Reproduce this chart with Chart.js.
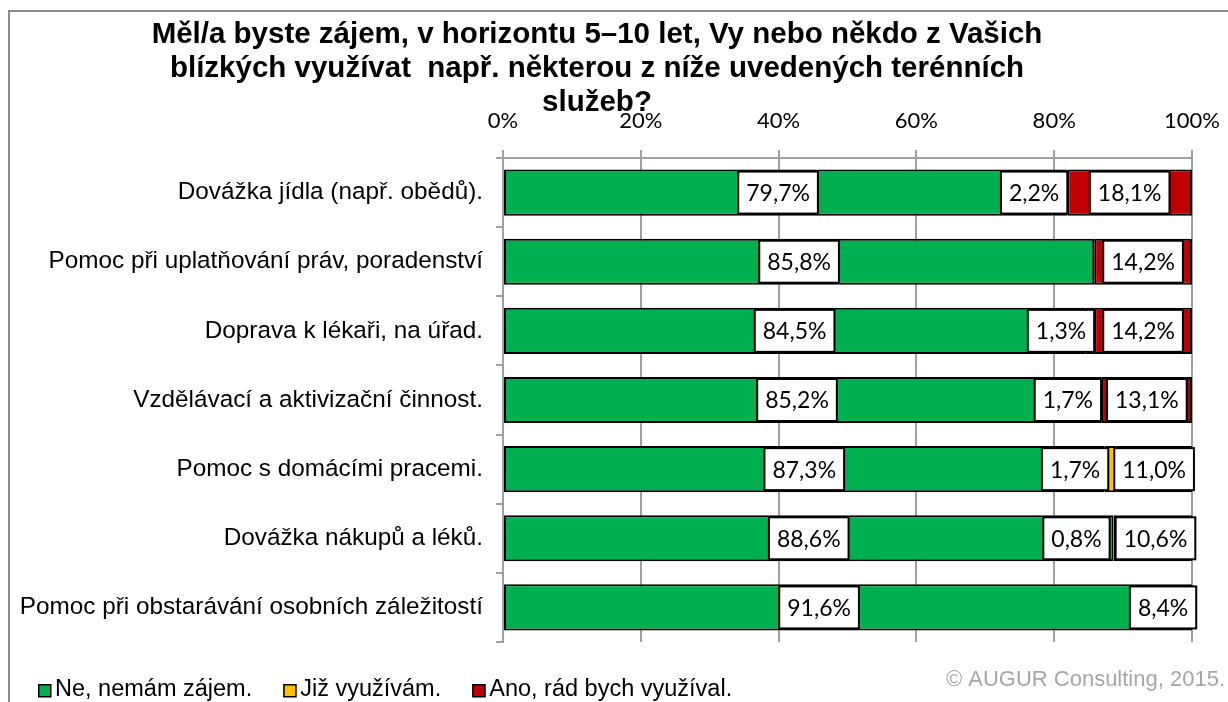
<!DOCTYPE html>
<html>
<head>
<meta charset="utf-8">
<script src="https://cdn.jsdelivr.net/npm/chart.js@4.4.1/dist/chart.umd.min.js"></script>
<style>
  html, body { margin: 0; padding: 0; background: #fff; }
  #wrap { width: 1228px; height: 702px; }
</style>
</head>
<body>
<div id="wrap"><canvas id="serviceChart" width="1228" height="702"></canvas></div>
<script>
  // Data (percent of respondents)
  const categories = [
    'Dovážka jídla (např. obědů).',
    'Pomoc při uplatňování práv, poradenství',
    'Doprava k lékaři, na úřad.',
    'Vzdělávací a aktivizační činnost.',
    'Pomoc s domácími pracemi.',
    'Dovážka nákupů a léků.',
    'Pomoc při obstarávání osobních záležitostí'
  ];
  const notInterested = [79.7, 85.8, 84.5, 85.2, 87.3, 88.6, 91.6];
  const alreadyUsing = [2.2, 0, 1.3, 1.7, 1.7, 0.8, 0];
  const wouldLike = [18.1, 14.2, 14.2, 13.1, 11.0, 10.6, 8.4];
  const seriesNames = ['Ne, nemám zájem.', 'Již využívám.', 'Ano, rád bych využíval.'];
  const tickValues = [0, 20, 40, 60, 80, 100];

  const titleLines = [
    'Měl/a byste zájem, v horizontu 5–10 let, Vy nebo někdo z Vašich',
    'blízkých využívat  např. některou z níže uvedených terénních',
    'služeb?'
  ];
  const watermark = '© AUGUR Consulting, 2015.';

  const colors = ['#00B050', '#FFC000', '#C00000'];
  const arial = '"Liberation Sans", Arial, sans-serif';
  const labelFont = '23px Lato, "Open Sans", sans-serif';
  const fmt = v => v.toFixed(1).replace('.', ',') + '%';

  // frame, title, legend and watermark
  const decorPlugin = {
    id: 'decor',
    beforeDraw(chart) {
      const ctx = chart.ctx;
      ctx.save();
      ctx.fillStyle = '#fff';
      ctx.fillRect(0, 0, chart.width, chart.height);
      ctx.strokeStyle = '#8c8c8c';
      ctx.lineWidth = 2;
      ctx.beginPath();
      ctx.moveTo(chart.width, 11);
      ctx.lineTo(9, 11);
      ctx.lineTo(9, chart.height);
      ctx.stroke();
      ctx.restore();
    },
    afterDraw(chart) {
      const ctx = chart.ctx;
      ctx.save();
      ctx.fillStyle = '#000';
      ctx.font = 'bold 29.5px ' + arial;
      ctx.textAlign = 'center';
      ctx.textBaseline = 'alphabetic';
      titleLines.forEach((line, i) => ctx.fillText(line, 597, 43 + i * 34));

      // legend
      ctx.font = '23.5px ' + arial;
      ctx.textAlign = 'left';
      ctx.textBaseline = 'middle';
      let x = 38;
      chart.data.datasets.forEach(ds => {
        ctx.fillStyle = ds.backgroundColor;
        ctx.fillRect(x, 684, 13, 13);
        ctx.strokeStyle = '#000';
        ctx.lineWidth = 1.5;
        ctx.strokeRect(x + 0.75, 684.75, 12, 12);
        ctx.fillStyle = '#000';
        ctx.fillText(ds.label, x + 17, 690);
        x += 17 + ctx.measureText(ds.label).width + 31;
      });

      // watermark
      ctx.fillStyle = '#a6a6a6';
      ctx.textAlign = 'right';
      ctx.font = '22px ' + arial;
      ctx.fillText(watermark, 1225, 680);
      ctx.restore();
    }
  };

  // value labels in white boxes
  function boxWidth(ctx, text) {
    return ctx.measureText(text).width + 16;
  }

  function drawBox(ctx, text, cx, cy) {
    const w = boxWidth(ctx, text);
    const h = 42;
    ctx.fillStyle = '#fff';
    ctx.fillRect(cx - w / 2, cy - h / 2, w, h);
    ctx.strokeStyle = '#000';
    ctx.lineWidth = 2;
    ctx.strokeRect(cx - w / 2, cy - h / 2, w, h);
    ctx.fillStyle = '#000';
    ctx.fillText(text, cx, cy + 1);
  }

  const valueLabelPlugin = {
    id: 'valueLabels',
    afterDatasetsDraw(chart) {
      const ctx = chart.ctx;
      ctx.save();
      ctx.font = labelFont;
      ctx.textAlign = 'center';
      ctx.textBaseline = 'middle';
      const green = chart.getDatasetMeta(0).data;
      const yellow = chart.getDatasetMeta(1).data;
      const red = chart.getDatasetMeta(2).data;
      categories.forEach((c, i) => {
        const g = green[i], r = red[i], yl = yellow[i];
        drawBox(ctx, fmt(notInterested[i]), (g.x + g.base) / 2, g.y);
        const rText = fmt(wouldLike[i]);
        const rCenter = (r.x + r.base) / 2;
        const rLeft = rCenter - boxWidth(ctx, rText) / 2;
        if (alreadyUsing[i] > 0) {
          const yText = fmt(alreadyUsing[i]);
          const right = Math.min(yl.x, rLeft - 6);
          drawBox(ctx, yText, right - boxWidth(ctx, yText) / 2, yl.y);
        }
        drawBox(ctx, rText, rCenter, r.y);
      });
      ctx.restore();
    }
  };

  function createServiceChart() {
    const ctx = document.getElementById('serviceChart').getContext('2d');
    const series = [notInterested, alreadyUsing, wouldLike];

    new Chart(ctx, {
      type: 'bar',
      data: {
        labels: categories,
        datasets: series.map((values, i) => ({
          label: seriesNames[i],
          data: values,
          backgroundColor: colors[i],
          borderColor: '#000',
          borderWidth: 2,
          borderSkipped: false,
          categoryPercentage: 0.667,
          barPercentage: 1
        }))
      },
      options: {
        indexAxis: 'y',
        responsive: false,
        animation: false,
        layout: { padding: { top: 20, left: 20, right: 36, bottom: 60 } },
        plugins: {
          legend: { display: false },
          tooltip: { enabled: false }
        },
        scales: {
          x: {
            position: 'top',
            stacked: true,
            min: 0,
            max: 100,
            afterFit: scale => {
              scale.height = 158 - 20;
              scale.paddingLeft = 0;
              scale.paddingRight = 0;
            },
            afterBuildTicks: scale => { scale.ticks = tickValues.map(v => ({ value: v })); },
            ticks: {
              callback: v => v + '%',
              color: '#000',
              font: { family: 'Lato, "Open Sans", sans-serif', size: 22 },
              padding: 16,
              maxRotation: 0
            },
            grid: { color: '#a0a0a0', lineWidth: 2, tickLength: 8 },
            border: { color: '#a0a0a0', width: 2 }
          },
          y: {
            stacked: true,
            afterFit: scale => { scale.width = 503 - 20; },
            ticks: {
              color: '#000',
              font: { family: arial, size: 24.3 },
              padding: 13
            },
            grid: { drawOnChartArea: false, color: '#a0a0a0', lineWidth: 2, tickLength: 7 },
            border: { color: '#a0a0a0', width: 2 }
          }
        }
      },
      plugins: [decorPlugin, valueLabelPlugin]
    });
  }

  document.addEventListener('DOMContentLoaded', () => {
    createServiceChart();
  });
</script>
</body>
</html>
